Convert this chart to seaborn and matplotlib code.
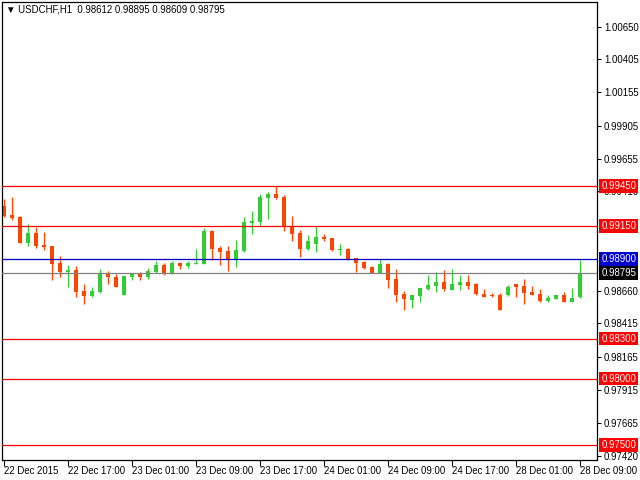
import numpy as np
import pandas as pd
import matplotlib
matplotlib.use("Agg")
import matplotlib.pyplot as plt
import seaborn as sns

# ---------------- data ----------------
symbol = "USDCHF,H1"

opens = [0.99300, 0.99232, 0.99217, 0.99021, 0.99096, 0.99006, 0.98998, 0.98870, 0.98803, 0.98818,
         0.98660, 0.98622, 0.98652, 0.98795, 0.98765, 0.98629, 0.98765, 0.98795, 0.98765, 0.98803,
         0.98855, 0.98787, 0.98870, 0.98848, 0.98866, 0.98863, 0.99111, 0.98983, 0.98961, 0.98893,
         0.98961, 0.99172, 0.99179, 0.99360, 0.99390, 0.99367, 0.99149, 0.99096, 0.98976, 0.99013,
         0.99066, 0.99059, 0.98968, 0.98976, 0.98908, 0.98878, 0.98840, 0.98795, 0.98863, 0.98750,
         0.98637, 0.98592, 0.98622, 0.98675, 0.98697, 0.98727, 0.98667, 0.98705, 0.98727, 0.98712,
         0.98637, 0.98629, 0.98629, 0.98629, 0.98712, 0.98697, 0.98652, 0.98637, 0.98584, 0.98599,
         0.98629, 0.98577, 0.98612]
highs = [0.99352, 0.99367, 0.99224, 0.99164, 0.99141, 0.99104, 0.99000, 0.98923, 0.98855, 0.98848,
         0.98712, 0.98690, 0.98825, 0.98810, 0.98787, 0.98772, 0.98795, 0.98803, 0.98833, 0.98885,
         0.98870, 0.98885, 0.98878, 0.98885, 0.98976, 0.99134, 0.99119, 0.98998, 0.98998, 0.99044,
         0.99217, 0.99262, 0.99390, 0.99405, 0.99450, 0.99382, 0.99224, 0.99119, 0.99081, 0.99149,
         0.99089, 0.99062, 0.99013, 0.98980, 0.98910, 0.98885, 0.98848, 0.98900, 0.98870, 0.98825,
         0.98660, 0.98629, 0.98682, 0.98780, 0.98803, 0.98818, 0.98825, 0.98780, 0.98780, 0.98720,
         0.98675, 0.98645, 0.98645, 0.98705, 0.98715, 0.98750, 0.98697, 0.98675, 0.98629, 0.98629,
         0.98652, 0.98682, 0.98895]
lows = [0.99217, 0.99194, 0.99018, 0.98998, 0.98983, 0.98968, 0.98742, 0.98765, 0.98690, 0.98614,
        0.98562, 0.98614, 0.98645, 0.98712, 0.98690, 0.98629, 0.98742, 0.98742, 0.98750, 0.98795,
        0.98780, 0.98787, 0.98825, 0.98833, 0.98863, 0.98860, 0.98893, 0.98855, 0.98810, 0.98840,
        0.98955, 0.99089, 0.99149, 0.99202, 0.99352, 0.99111, 0.99036, 0.98915, 0.98970, 0.98953,
        0.99036, 0.98961, 0.98931, 0.98893, 0.98803, 0.98825, 0.98795, 0.98792, 0.98682, 0.98577,
        0.98516, 0.98531, 0.98577, 0.98670, 0.98652, 0.98660, 0.98665, 0.98667, 0.98675, 0.98629,
        0.98614, 0.98614, 0.98516, 0.98622, 0.98614, 0.98562, 0.98629, 0.98577, 0.98577, 0.98599,
        0.98577, 0.98577, 0.98609]
closes = [0.99224, 0.99209, 0.99021, 0.99096, 0.98998, 0.98991, 0.98863, 0.98803, 0.98818, 0.98652,
          0.98622, 0.98660, 0.98787, 0.98765, 0.98690, 0.98772, 0.98795, 0.98765, 0.98810, 0.98855,
          0.98787, 0.98870, 0.98848, 0.98870, 0.98870, 0.99111, 0.98976, 0.98953, 0.98893, 0.98968,
          0.99179, 0.99187, 0.99367, 0.99390, 0.99360, 0.99141, 0.99089, 0.98976, 0.99036, 0.99066,
          0.99051, 0.98968, 0.98976, 0.98900, 0.98870, 0.98833, 0.98795, 0.98863, 0.98742, 0.98629,
          0.98599, 0.98629, 0.98682, 0.98705, 0.98727, 0.98675, 0.98712, 0.98727, 0.98697, 0.98637,
          0.98614, 0.98622, 0.98516, 0.98690, 0.98690, 0.98645, 0.98629, 0.98584, 0.98607, 0.98629,
          0.98577, 0.98607, 0.98795]

x_tick_labels = ["22 Dec 2015", "22 Dec 17:00", "23 Dec 01:00", "23 Dec 09:00", "23 Dec 17:00",
                 "24 Dec 01:00", "24 Dec 09:00", "24 Dec 17:00", "28 Dec 01:00", "28 Dec 09:00"]
x_tick_every = 8

y_ticks = [1.00650, 1.00405, 1.00155, 0.99905, 0.99655, 0.99410,
           0.98660, 0.98415, 0.98165, 0.97915, 0.97665, 0.97420]
y_limits = (0.97387, 1.00836)

red_levels = [0.99450, 0.99150, 0.98300, 0.98000, 0.97500]
blue_levels = [0.98900]

# ---------------- style ----------------
sns.set_theme(style="white")
plt.rcParams["font.family"] = ["Liberation Sans", "DejaVu Sans"]
FS = 6.9
BULL = "#32CD32"
BEAR = "#FF4500"

df = pd.DataFrame({"open": opens, "high": highs, "low": lows, "close": closes})
df["idx"] = np.arange(len(df))
df["bull"] = df["close"] >= df["open"]
df["color"] = np.where(df["bull"], BULL, BEAR)
df["bottom"] = df[["open", "close"]].min(axis=1)
df["body"] = (df["close"] - df["open"]).abs().clip(lower=0.00008)

fig = plt.figure(figsize=(6.4, 4.8), dpi=100)
fig.patch.set_facecolor("white")
ax = fig.add_axes([2 / 640, 20 / 480, 595 / 640, 458 / 480])
ax.set_facecolor("white")

# wicks and bodies
ax.vlines(df["idx"], df["low"], df["high"], colors=df["color"], linewidth=0.9, zorder=2)
ax.bar(df["idx"], df["body"], bottom=df["bottom"], width=0.62, color=df["color"],
       linewidth=0, zorder=2)

# horizontal levels
for lv in red_levels:
    ax.axhline(lv, color="#FF0000", linewidth=0.9, zorder=3)
for lv in blue_levels:
    ax.axhline(lv, color="#0000CC", linewidth=0.9, zorder=3)
last_price = closes[-1]
ax.axhline(last_price, color="#808080", linewidth=0.9, zorder=3)

ax.set_xlim(-0.25, 74.125)
ax.set_ylim(*y_limits)

# y axis on right
ax.yaxis.tick_right()
ax.set_yticks(y_ticks)
ax.set_yticklabels([f"{v:.5f}" for v in y_ticks])
ax.tick_params(axis="y", which="both", right=True, left=False, direction="out",
               length=3, width=0.75, pad=2, labelsize=FS, colors="black")

# x axis
xt = np.arange(0, len(x_tick_labels) * x_tick_every, x_tick_every)
ax.set_xticks(xt)
ax.set_xticklabels(x_tick_labels)
ax.tick_params(axis="x", which="both", bottom=True, direction="out",
               length=4, width=0.75, pad=0.5, labelsize=FS, colors="black")
for lbl in ax.get_xticklabels():
    lbl.set_ha("left")

for sp in ax.spines.values():
    sp.set_color("black")
    sp.set_linewidth(0.9)
    sp.set_visible(True)
ax.set_xlabel("")
ax.set_ylabel("")
ax.grid(False)


def price_box(value, color):
    ax.annotate(f"{value:.5f}", xy=(1.0, value), xycoords=("axes fraction", "data"),
                xytext=(3.0, 0), textcoords="offset points", ha="left", va="center",
                color="white", fontsize=FS, annotation_clip=False, zorder=10,
                bbox=dict(boxstyle="square,pad=0.18", fc=color, ec="none"))


for lv in red_levels:
    price_box(lv, "#FF0000")
for lv in blue_levels:
    price_box(lv, "#0000CC")
price_box(last_price, "black")

title = "\u25BC " + f"{symbol}  {opens[-1]:.5f} {highs[-1]:.5f} {lows[-1]:.5f} {closes[-1]:.5f}"
fig.text(6 / 640, 1 - 10 / 480, title, ha="left", va="center", fontsize=FS, color="black")

fig.savefig("out.png", dpi=100, facecolor="white")
